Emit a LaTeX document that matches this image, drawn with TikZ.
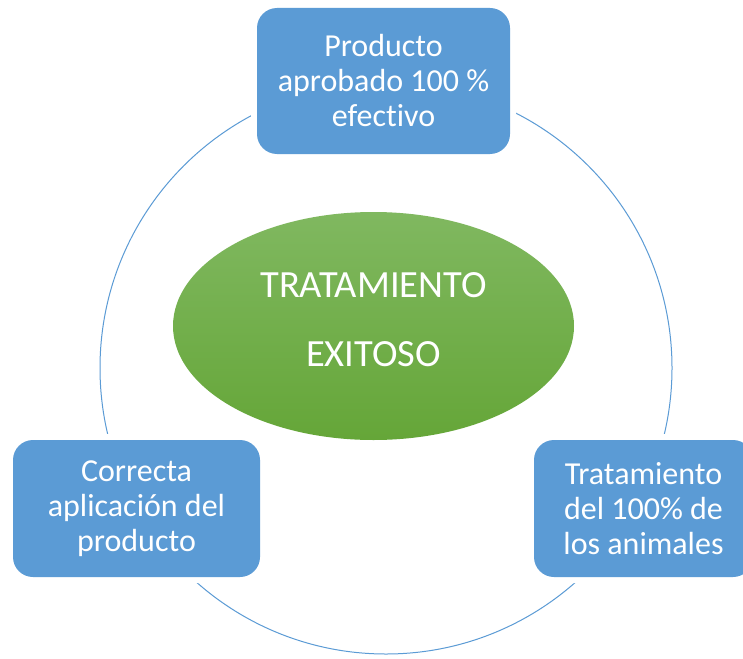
\documentclass[tikz,border=0pt]{standalone}
\usepackage{fontspec}
\setmainfont[Ligatures={NoCommon}]{Carlito}
\usetikzlibrary{shapes.geometric}
\definecolor{boxblue}{RGB}{91,155,213}
\definecolor{greentop}{RGB}{128,184,96}
\definecolor{greenbot}{RGB}{101,166,56}
\begin{document}
\begin{tikzpicture}[x=1pt,y=-1pt,
  box/.style={rectangle, rounded corners=20pt, fill=boxblue, text=white,
    align=center, font=\fontsize{32}{35}\selectfont, inner sep=0pt,
    preaction={draw=white, line width=12pt}},
  centre/.style={ellipse, inner sep=0pt, top color=greentop, bottom color=greenbot,
    draw=none, text=white, align=center, font=\fontsize{38.5}{69}\selectfont}
]
\useasboundingbox (0,0) rectangle (743,658);
\clip (0,0) rectangle (743,658);
\fill[white] (0,0) rectangle (743,658);
\draw[boxblue, line width=1pt] (386,368) circle (286pt);
\node[box, minimum width=253pt, minimum height=146pt] (top) at (383.5,81)
  {Producto\\aprobado 100 \%\\efectivo};
\node[box, minimum width=247pt, minimum height=137pt] (left) at (136.5,508.5)
  {Correcta\\aplicación del\\producto};
\node[box, minimum width=219pt, minimum height=137pt] (right) at (643.5,508.5)
  {Tratamiento\\del 100\% de\\los animales};
\node[centre, minimum width=401pt, minimum height=228pt] (c) at (373.5,326)
  {TRATAMIENTO\\EXITOSO\rule[-13pt]{0pt}{0pt}};
\end{tikzpicture}
\end{document}
